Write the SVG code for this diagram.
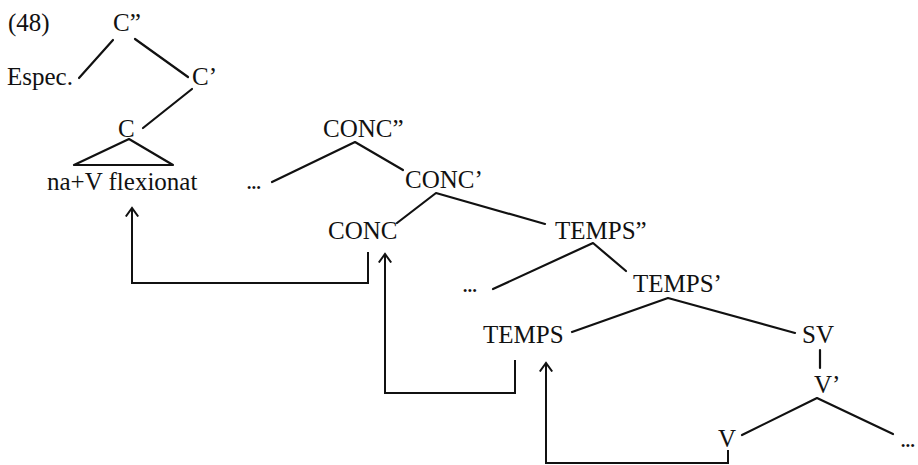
<svg xmlns="http://www.w3.org/2000/svg" width="918" height="465" viewBox="0 0 918 465">
<style>
text{font-family:"Liberation Serif","Times New Roman",serif;font-size:25px;fill:#111}
.d{letter-spacing:-1.5px}
.e{stroke:#111;stroke-width:2.2;fill:none;stroke-linecap:round;stroke-linejoin:round}
.a{stroke:#111;stroke-width:2;fill:none;stroke-linejoin:miter}
</style>
<defs>
<marker id="ah" viewBox="0 0 14 14" refX="9" refY="7" markerWidth="14" markerHeight="14" markerUnits="userSpaceOnUse" orient="auto">
<path d="M0.5,0.8 L9,7 L0.5,13.2" fill="none" stroke="#111" stroke-width="2"/>
</marker>
</defs>
<rect width="918" height="465" fill="#fff"/>
<text x="8" y="31">(48)</text>
<g id="Cpp"><text x="113" y="31">C”</text></g>
<g id="Espec"><text x="7" y="85">Espec.</text></g>
<g id="Cp"><text x="192" y="85">C’</text></g>
<g id="C"><text x="118" y="137">C</text><path class="e" d="M129,139 L74,165 L173,165 Z"/></g>
<g id="naV"><text x="47" y="190">na+V flexionat</text></g>
<g id="dots1"><text class="d" x="246" y="189">...</text></g>
<g id="CONCpp"><text x="323" y="137">CONC”</text></g>
<g id="CONCp"><text x="405" y="188">CONC’</text></g>
<g id="CONC"><text x="328" y="239">CONC</text></g>
<g id="TEMPSpp"><text x="555" y="239">TEMPS”</text></g>
<g id="dots2"><text class="d" x="462" y="292">...</text></g>
<g id="TEMPSp"><text x="633" y="292">TEMPS’</text></g>
<g id="TEMPS"><text x="483" y="343">TEMPS</text></g>
<g id="SV"><text x="802" y="343">SV</text></g>
<g id="Vp"><text x="814" y="393">V’</text></g>
<g id="V"><text x="718" y="447">V</text></g>
<g id="dots3"><text class="d" x="900" y="447">...</text></g>
<g id="connectors">
<path class="e" d="M113,40 L79,78"/>
<path class="e" d="M135,39 L188,77"/>
<path class="e" d="M192,89 L143,128"/>
<path class="e" d="M272,182 L355,142 L403,170"/>
<path class="e" d="M397,223 L436,193 L545,224"/>
<path class="e" d="M493,289 L593,243 L626,271"/>
<path class="e" d="M572,332 L668,298 L795,333"/>
<path class="e" d="M820,350 L820,368"/>
<path class="e" d="M742,435 L817,398 L893,434"/>
<path class="a" d="M368,252 L368,283 L132,283 L132,208" marker-end="url(#ah)"/>
<path class="a" d="M515,360 L515,393 L385,393 L385,254" marker-end="url(#ah)"/>
<path class="a" d="M728,450 L728,463 L546,463 L546,363" marker-end="url(#ah)"/>
</g>
</svg>
